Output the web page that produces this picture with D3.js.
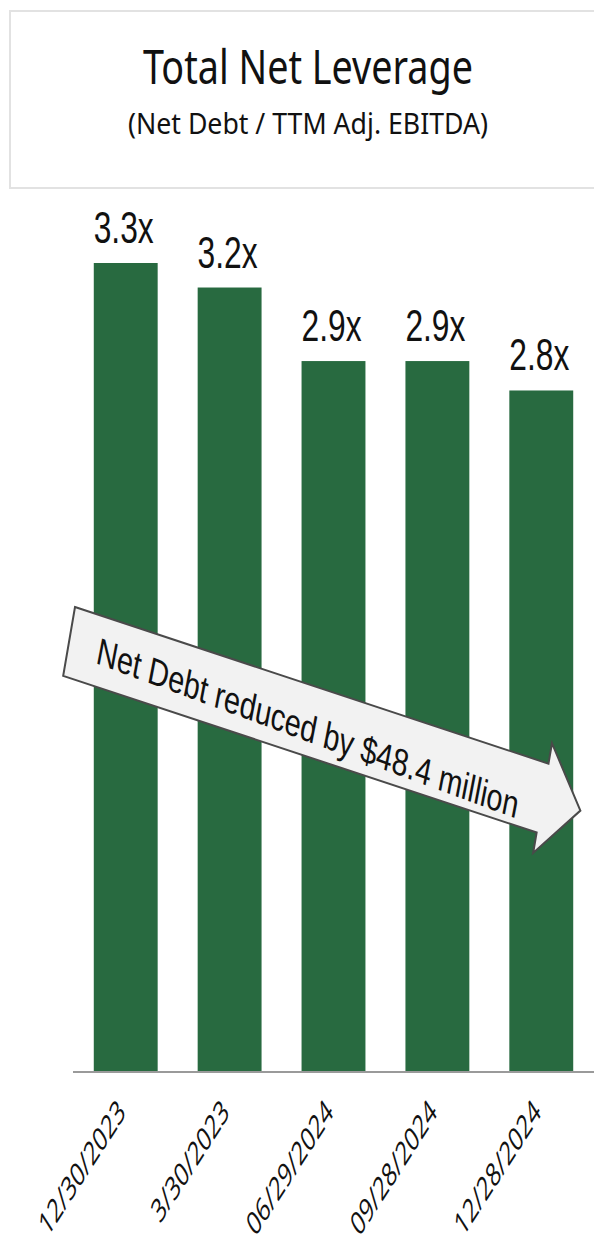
<!DOCTYPE html>
<html>

<head>
    <title>Total Net Leverage</title>
    <script src="https://d3js.org/d3.v7.min.js"></script>
    <style>
        body {
            margin: 0;
            background: #fff;
        }
    </style>
</head>

<body>
    <div id="chart"></div>

    <script>
        // data
        const periods = ['12/30/2023', '3/30/2023', '06/29/2024', '09/28/2024', '12/28/2024'];
        const leverage = [3.3, 3.2, 2.9, 2.9, 2.78];
        const titleText = 'Total Net Leverage';
        const subtitleText = '(Net Debt / TTM Adj. EBITDA)';
        const arrowText = 'Net Debt reduced by $48.4 million';

        const width = 594, height = 1239;
        const baseY = 1072;
        const squish = 0.64; // the source picture is squeezed sideways

        const svg = d3.select('#chart')
            .append('svg')
            .attr('width', width)
            .attr('height', height)
            .style('display', 'block');

        // title box
        svg.append('rect')
            .attr('x', 10)
            .attr('y', 11)
            .attr('width', 620)
            .attr('height', 177)
            .attr('fill', '#fff')
            .attr('stroke', '#e2e2e2')
            .attr('stroke-width', 2);

        svg.append('text')
            .attr('x', 308)
            .attr('y', 84)
            .attr('text-anchor', 'middle')
            .attr('font-family', 'Noto Sans')
            .attr('font-size', 48)
            .attr('textLength', 330)
            .attr('lengthAdjust', 'spacingAndGlyphs')
            .attr('fill', '#111')
            .text(titleText);

        svg.append('text')
            .attr('x', 308)
            .attr('y', 134)
            .attr('text-anchor', 'middle')
            .attr('font-family', 'Noto Sans')
            .attr('font-size', 29)
            .attr('textLength', 360)
            .attr('lengthAdjust', 'spacingAndGlyphs')
            .attr('fill', '#111')
            .text(subtitleText);

        const x = d3.scaleBand()
            .domain(periods)
            .range([73, 594])
            .paddingInner(0.385)
            .paddingOuter(0.2);

        const y = d3.scaleLinear()
            .domain([0, 3.3])
            .range([baseY, 263]);

        svg.selectAll('.bar')
            .data(periods)
            .enter().append('rect')
            .attr('class', 'bar')
            .attr('x', d => x(d))
            .attr('y', (d, i) => y(leverage[i]))
            .attr('width', x.bandwidth())
            .attr('height', (d, i) => baseY - y(leverage[i]))
            .attr('fill', '#286a40');

        svg.selectAll('.value')
            .data(periods)
            .enter().append('text')
            .attr('class', 'value')
            .attr('x', d => x(d) + x.bandwidth() / 2 - 2)
            .attr('y', (d, i) => y(leverage[i]) - 20)
            .attr('text-anchor', 'middle')
            .attr('font-family', 'Liberation Sans')
            .attr('font-size', 44)
            .attr('textLength', 60)
            .attr('lengthAdjust', 'spacingAndGlyphs')
            .attr('fill', '#111')
            .text((d, i) => d3.format('.1f')(leverage[i]) + 'x');

        // axis line + rotated dates
        const xAxis = svg.append('g')
            .attr('transform', `translate(0,${baseY})`)
            .call(d3.axisBottom(x).tickSize(0).tickSizeOuter(0).tickPadding(0));

        xAxis.select('.domain')
            .attr('d', 'M73,0H594')
            .attr('stroke', '#9a9a9a')
            .attr('stroke-width', 2);

        xAxis.selectAll('.tick text')
            .attr('y', 0)
            .attr('dy', 0)
            .attr('font-family', 'Open Sans')
            .attr('font-size', 33)
            .attr('fill', '#111')
            .attr('text-anchor', 'end')
            .attr('transform', `translate(1,42) scale(${squish},1) rotate(-45)`);

        // the block arrow over the bars
        const arrow = svg.append('g')
            .attr('transform', 'translate(75,607) scale(0.72,1) rotate(13.4)');

        const bodyLen = 676, bodyW = 70.8, barb = 21, tip = 730;
        arrow.append('path')
            .attr('d', d3.line()([
                [0, 0], [bodyLen, 0], [bodyLen, -barb], [tip, bodyW / 2],
                [bodyLen, bodyW + barb], [bodyLen, bodyW], [0, bodyW]
            ]) + 'Z')
            .attr('fill', '#f2f2f2')
            .attr('stroke', '#4a4a4a')
            .attr('stroke-width', 2)
            .attr('vector-effect', 'non-scaling-stroke');

        arrow.append('text')
            .attr('x', 40)
            .attr('y', 48)
            .attr('transform', 'rotate(1.5,40,48)')
            .attr('font-family', 'Liberation Sans')
            .attr('font-size', 38)
            .attr('textLength', 605)
            .attr('lengthAdjust', 'spacingAndGlyphs')
            .attr('fill', '#111')
            .text(arrowText);
    </script>
</body>

</html>
